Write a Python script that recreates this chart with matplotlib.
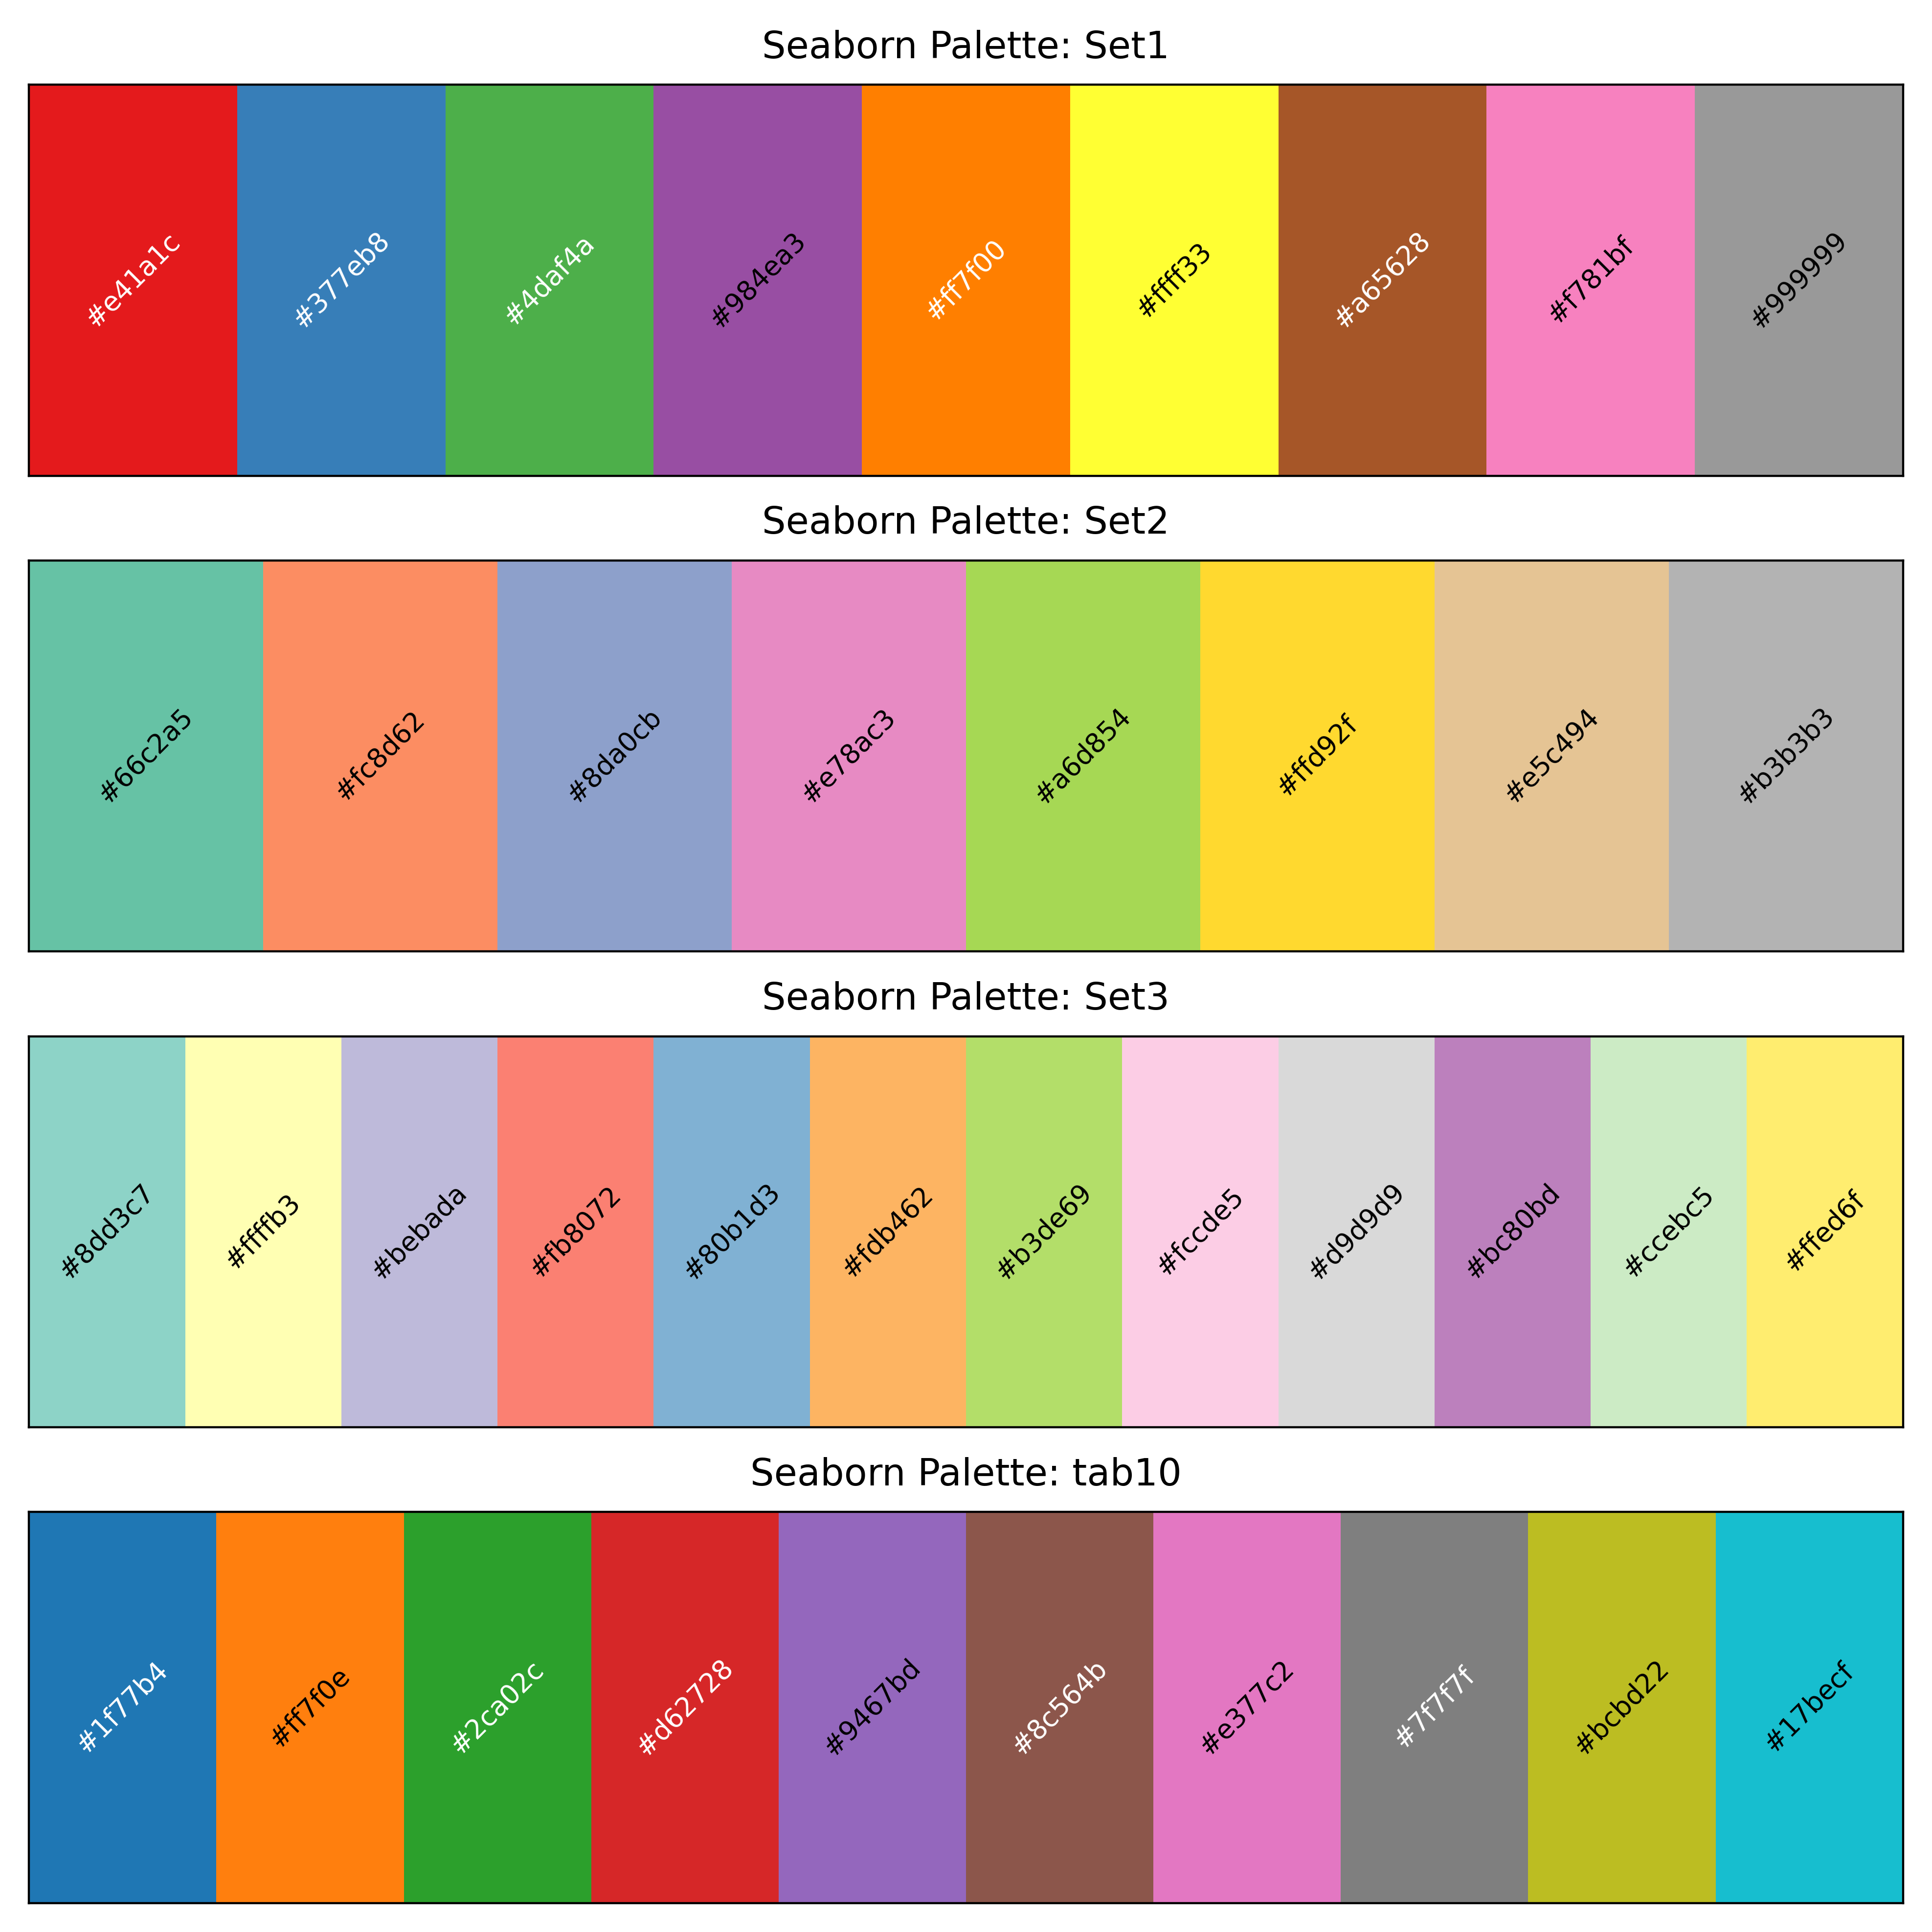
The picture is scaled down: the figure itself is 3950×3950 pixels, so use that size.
import matplotlib
matplotlib.use('Agg')
import matplotlib.pyplot as plt
from matplotlib.colors import to_rgb
import numpy as np

palette_names = ['Set1', 'Set2', 'Set3', 'tab10']
set1 = ['#e41a1c', '#377eb8', '#4daf4a', '#984ea3', '#ff7f00', '#ffff33', '#a65628', '#f781bf', '#999999']
set2 = ['#66c2a5', '#fc8d62', '#8da0cb', '#e78ac3', '#a6d854', '#ffd92f', '#e5c494', '#b3b3b3']
set3 = ['#8dd3c7', '#ffffb3', '#bebada', '#fb8072', '#80b1d3', '#fdb462', '#b3de69', '#fccde5',
        '#d9d9d9', '#bc80bd', '#ccebc5', '#ffed6f']
tab10 = ['#1f77b4', '#ff7f0e', '#2ca02c', '#d62728', '#9467bd', '#8c564b', '#e377c2', '#7f7f7f',
         '#bcbd22', '#17becf']
palettes = [set1, set2, set3, tab10]

fig, axes = plt.subplots(4, 1, figsize=(10, 10))
for ax, name, colors in zip(axes, palette_names, palettes):
    n = len(colors)
    x = np.arange(n)
    ax.bar(x, np.ones(n), width=1.0, color=colors, align='edge')
    for i, c in enumerate(colors):
        tc = 'white' if np.mean(to_rgb(c)) < 0.5 else 'black'
        ax.text(i + 0.5, 0.5, c, ha='center', va='center', rotation=45, fontsize=10, color=tc)
    ax.set_xlim(0, n)
    ax.set_ylim(0, 1)
    ax.set_xticks([])
    ax.set_yticks([])
    ax.set_title(f'Seaborn Palette: {name}', fontsize=14, pad=10)

plt.tight_layout()
plt.savefig('out.png', dpi=395)
